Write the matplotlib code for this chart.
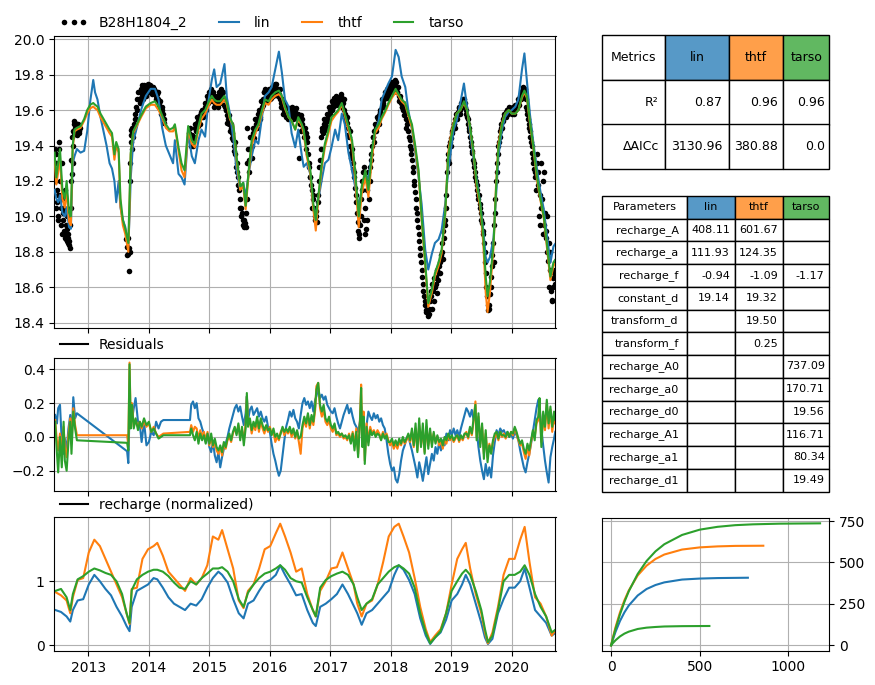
import matplotlib
matplotlib.use("Agg")
import matplotlib.pyplot as plt
from matplotlib.lines import Line2D
import numpy as np

# ---------------- data ----------------
model_names = ["lin", "thtf", "tarso"]
obs_name = "B28H1804_2"

# simulated heads (decimal years)
t_sim = [2012.44, 2012.47, 2012.50, 2012.53, 2012.57, 2012.61, 2012.64, 2012.68, 2012.71, 2012.74, 2012.77, 2012.81,
         2012.87, 2012.93, 2012.98, 2013.03, 2013.08, 2013.11, 2013.15, 2013.20, 2013.25, 2013.30, 2013.35, 2013.39,
         2013.43, 2013.46, 2013.50, 2013.53, 2013.57, 2013.61, 2013.66, 2013.68, 2013.70, 2013.74, 2013.80, 2013.87,
         2013.95, 2014.03, 2014.10, 2014.16, 2014.22, 2014.28, 2014.34, 2014.40,
         2014.43, 2014.49, 2014.54, 2014.59, 2014.65, 2014.71, 2014.76, 2014.82, 2014.87, 2014.93, 2014.98, 2015.04,
         2015.08, 2015.12, 2015.18, 2015.25, 2015.29, 2015.34, 2015.40, 2015.45, 2015.51, 2015.56, 2015.60, 2015.65,
         2015.70, 2015.76, 2015.81, 2015.87, 2015.92, 2015.98, 2016.03, 2016.09, 2016.15, 2016.20, 2016.25, 2016.31,
         2016.36, 2016.42, 2016.47, 2016.53,
         2016.56, 2016.61, 2016.67, 2016.72, 2016.76, 2016.80, 2016.86, 2016.91, 2016.97, 2017.02, 2017.08, 2017.13,
         2017.19, 2017.24, 2017.30, 2017.36, 2017.41, 2017.47, 2017.52, 2017.58, 2017.63, 2017.69, 2017.74, 2017.80,
         2017.85, 2017.91, 2017.96, 2018.02, 2018.08, 2018.13, 2018.18, 2018.24, 2018.29, 2018.35, 2018.40, 2018.46,
         2018.51, 2018.57, 2018.62,
         2018.68, 2018.73, 2018.79, 2018.84, 2018.90, 2018.95, 2019.00, 2019.04, 2019.09, 2019.15, 2019.21, 2019.26,
         2019.31, 2019.37, 2019.42, 2019.48, 2019.53, 2019.57, 2019.60, 2019.64, 2019.70, 2019.74, 2019.78, 2019.84,
         2019.89, 2019.95, 2020.00, 2020.06, 2020.11, 2020.17, 2020.21, 2020.25, 2020.30, 2020.36, 2020.42, 2020.47,
         2020.53, 2020.58, 2020.64, 2020.69, 2020.73]

sim_lin = [19.15, 19.10, 19.08, 19.12, 19.02, 19.00, 19.05, 18.94, 18.93, 19.30, 19.34, 19.38,
           19.36, 19.37, 19.48, 19.65, 19.77, 19.70, 19.66, 19.56, 19.48, 19.40, 19.30, 19.27,
           19.20, 19.08, 19.20, 19.05, 18.98, 18.94, 18.83, 19.00, 19.22, 19.42, 19.50, 19.60,
           19.68, 19.72, 19.72, 19.66, 19.50, 19.40, 19.35, 19.30,
           19.43, 19.24, 19.22, 19.18, 19.47, 19.34, 19.30, 19.43, 19.49, 19.45, 19.64, 19.77,
           19.83, 19.73, 19.75, 19.86, 19.67, 19.58, 19.43, 19.26, 19.15, 19.19, 19.11, 19.24,
           19.34, 19.43, 19.41, 19.56, 19.68, 19.70, 19.73, 19.83, 19.93, 19.81, 19.66, 19.62,
           19.47, 19.39, 19.49, 19.34,
           19.28, 19.30, 19.24, 19.04, 19.02, 19.09, 19.21, 19.30, 19.32, 19.39, 19.49, 19.43,
           19.58, 19.52, 19.36, 19.26, 19.17, 19.05, 19.15, 19.24, 19.21, 19.36, 19.47, 19.54,
           19.66, 19.71, 19.75, 19.79, 19.94, 19.90, 19.79, 19.73, 19.60, 19.49, 19.37, 19.22,
           19.07, 18.81, 18.70,
           18.79, 18.85, 18.87, 18.92, 19.07, 19.26, 19.39, 19.49, 19.54, 19.64, 19.75, 19.62,
           19.47, 19.32, 19.21, 19.07, 18.92, 18.77, 18.74, 18.77, 18.88, 19.11, 19.34, 19.49,
           19.56, 19.59, 19.60, 19.62, 19.66, 19.83, 19.92, 19.77, 19.58, 19.41, 19.26, 19.15,
           19.04, 18.90, 18.74, 18.83, 18.85]

sim_thtf = [19.32, 19.18, 19.25, 19.33, 19.10, 19.05, 19.15, 18.97, 18.95, 19.38, 19.48, 19.49,
            19.50, 19.54, 19.58, 19.61, 19.62, 19.61, 19.60, 19.56, 19.53, 19.50, 19.47, 19.45,
            19.32, 19.40, 19.36, 19.06, 18.95, 18.90, 18.80, 19.05, 19.35, 19.47, 19.51, 19.56,
            19.61, 19.63, 19.63, 19.60, 19.56, 19.50, 19.48, 19.48,
            19.51, 19.37, 19.26, 19.22, 19.49, 19.41, 19.39, 19.49, 19.55, 19.58, 19.62, 19.66,
            19.64, 19.63, 19.63, 19.66, 19.63, 19.55, 19.51, 19.32, 19.15, 19.17, 19.04, 19.24,
            19.40, 19.47, 19.51, 19.58, 19.64, 19.63, 19.66, 19.68, 19.69, 19.67, 19.61, 19.56,
            19.54, 19.49, 19.55, 19.51,
            19.47, 19.34, 19.24, 19.04, 18.92, 19.09, 19.28, 19.39, 19.47, 19.54, 19.57, 19.59,
            19.63, 19.57, 19.49, 19.41, 19.22, 18.94, 19.13, 19.22, 19.11, 19.33, 19.47, 19.50,
            19.55, 19.59, 19.63, 19.67, 19.70, 19.68, 19.65, 19.63, 19.57, 19.50, 19.39, 19.24,
            18.98, 18.72, 18.49,
            18.57, 18.66, 18.72, 18.79, 19.01, 19.36, 19.47, 19.53, 19.58, 19.60, 19.64, 19.60,
            19.50, 19.35, 19.17, 19.05, 18.85, 18.57, 18.46, 18.57, 18.83, 19.17, 19.41, 19.53,
            19.58, 19.60, 19.58, 19.58, 19.60, 19.67, 19.70, 19.67, 19.53, 19.38, 19.20, 19.10,
            18.99, 18.83, 18.64, 18.72, 18.74]

sim_tarso = [19.36, 19.22, 19.30, 19.38, 19.15, 19.10, 19.20, 19.02, 19.00, 19.40, 19.49, 19.50,
             19.51, 19.55, 19.60, 19.63, 19.64, 19.63, 19.62, 19.58, 19.55, 19.52, 19.49, 19.47,
             19.35, 19.42, 19.38, 19.10, 18.98, 18.93, 18.85, 19.10, 19.36, 19.48, 19.52, 19.57,
             19.62, 19.64, 19.65, 19.62, 19.57, 19.52, 19.49, 19.50,
             19.52, 19.39, 19.30, 19.26, 19.51, 19.43, 19.41, 19.51, 19.58, 19.60, 19.64, 19.68,
             19.66, 19.65, 19.65, 19.68, 19.64, 19.56, 19.51, 19.34, 19.17, 19.19, 19.06, 19.26,
             19.43, 19.49, 19.52, 19.60, 19.66, 19.65, 19.68, 19.70, 19.71, 19.68, 19.62, 19.56,
             19.54, 19.49, 19.56, 19.52,
             19.49, 19.36, 19.26, 19.07, 18.98, 19.11, 19.30, 19.41, 19.49, 19.56, 19.58, 19.60,
             19.64, 19.58, 19.51, 19.43, 19.26, 19.00, 19.17, 19.26, 19.15, 19.37, 19.49, 19.52,
             19.56, 19.60, 19.64, 19.68, 19.72, 19.69, 19.66, 19.64, 19.58, 19.52, 19.41, 19.26,
             19.00, 18.74, 18.51,
             18.59, 18.68, 18.74, 18.81, 19.02, 19.34, 19.45, 19.52, 19.58, 19.60, 19.65, 19.60,
             19.51, 19.36, 19.19, 19.07, 18.89, 18.66, 18.55, 18.63, 18.85, 19.15, 19.39, 19.52,
             19.58, 19.60, 19.58, 19.58, 19.60, 19.68, 19.71, 19.68, 19.54, 19.39, 19.22, 19.11,
             19.00, 18.85, 18.66, 18.74, 18.76]

# observed heads (two readings per stretch: centre and edge of the dot band)
t_obs_a = [2012.44, 2012.45, 2012.46, 2012.47, 2012.48, 2012.49, 2012.50, 2012.51, 2012.52, 2012.53, 2012.54, 2012.55,
           2012.56, 2012.57, 2012.58, 2012.59, 2012.60, 2012.61, 2012.62, 2012.63, 2012.64, 2012.65, 2012.66, 2012.67,
           2012.68, 2012.69, 2012.70, 2012.71, 2012.72, 2012.73, 2012.74, 2012.75, 2012.76, 2012.77, 2012.78, 2012.80,
           2012.82, 2012.84, 2012.86,
           2013.62, 2013.64, 2013.66, 2013.67, 2013.68, 2013.69, 2013.70, 2013.71, 2013.72, 2013.73, 2013.75, 2013.77,
           2013.79, 2013.81, 2013.83, 2013.85, 2013.87, 2013.89, 2013.91, 2013.93, 2013.95, 2013.97, 2013.99, 2014.01,
           2014.03, 2014.05, 2014.07, 2014.09, 2014.11, 2014.13, 2014.15, 2014.17, 2014.19, 2014.21, 2014.23, 2014.25,
           2014.67, 2014.69, 2014.71, 2014.73, 2014.75, 2014.77, 2014.79, 2014.81, 2014.83, 2014.85, 2014.87, 2014.89,
           2014.91, 2014.93, 2014.95, 2014.97, 2014.99, 2015.01, 2015.03, 2015.05, 2015.07, 2015.09, 2015.11, 2015.13,
           2015.15, 2015.17, 2015.19, 2015.21, 2015.23, 2015.25, 2015.27, 2015.29, 2015.31, 2015.33, 2015.35, 2015.37,
           2015.39, 2015.41, 2015.43, 2015.45, 2015.47, 2015.49, 2015.51, 2015.53, 2015.55, 2015.57, 2015.59, 2015.61,
           2015.62, 2015.63, 2015.65, 2015.67, 2015.69, 2015.71, 2015.73, 2015.75, 2015.77, 2015.79, 2015.81, 2015.83,
           2015.85, 2015.87, 2015.89, 2015.91, 2015.93, 2015.95, 2015.97, 2015.99, 2016.01, 2016.03, 2016.05, 2016.07,
           2016.09, 2016.11, 2016.13, 2016.15, 2016.17, 2016.19, 2016.21, 2016.23, 2016.25, 2016.27, 2016.29, 2016.31,
           2016.33, 2016.35, 2016.37, 2016.39, 2016.41, 2016.43, 2016.45, 2016.47, 2016.49, 2016.51,
           2016.53, 2016.55, 2016.57, 2016.59, 2016.61, 2016.63, 2016.65, 2016.67, 2016.69, 2016.71, 2016.73, 2016.75,
           2016.77, 2016.79, 2016.81, 2016.83, 2016.85, 2016.87, 2016.89, 2016.91, 2016.93, 2016.95, 2016.97, 2016.99,
           2017.01, 2017.03, 2017.05, 2017.07, 2017.09, 2017.11, 2017.13, 2017.15, 2017.17, 2017.19, 2017.21, 2017.23,
           2017.25, 2017.27, 2017.29, 2017.31, 2017.33, 2017.35, 2017.37, 2017.39, 2017.41, 2017.43, 2017.45, 2017.47,
           2017.49, 2017.51, 2017.53, 2017.55, 2017.57, 2017.59, 2017.61, 2017.63, 2017.65, 2017.67, 2017.69, 2017.71,
           2017.73, 2017.75, 2017.77, 2017.79, 2017.81, 2017.83, 2017.85, 2017.87, 2017.89, 2017.91, 2017.93, 2017.95,
           2017.97, 2017.99, 2018.01, 2018.03, 2018.05, 2018.07, 2018.09, 2018.11, 2018.13, 2018.15, 2018.17, 2018.19,
           2018.21, 2018.23, 2018.25, 2018.27, 2018.29, 2018.31, 2018.33, 2018.35, 2018.37, 2018.39, 2018.41, 2018.43,
           2018.45, 2018.47, 2018.49, 2018.51, 2018.53, 2018.55, 2018.57, 2018.59, 2018.61, 2018.63,
           2018.65, 2018.67, 2018.69, 2018.71, 2018.73, 2018.75, 2018.77, 2018.79, 2018.81, 2018.83, 2018.85, 2018.87,
           2018.89, 2018.91, 2018.93, 2018.95, 2018.97, 2018.99, 2019.01, 2019.03, 2019.05, 2019.07, 2019.09, 2019.11,
           2019.13, 2019.15, 2019.17, 2019.19, 2019.21, 2019.23, 2019.25, 2019.27, 2019.29, 2019.31, 2019.33, 2019.35,
           2019.37, 2019.39, 2019.41, 2019.43, 2019.45, 2019.47, 2019.49, 2019.51, 2019.53, 2019.55, 2019.57, 2019.59,
           2019.61, 2019.63, 2019.65, 2019.67, 2019.69, 2019.71, 2019.73, 2019.75, 2019.77, 2019.79, 2019.81, 2019.83,
           2019.85, 2019.87, 2019.89, 2019.91, 2019.93, 2019.95, 2019.97, 2019.99, 2020.01, 2020.03, 2020.05, 2020.07,
           2020.09, 2020.11, 2020.13, 2020.15, 2020.17, 2020.19, 2020.21, 2020.23, 2020.25, 2020.27, 2020.29, 2020.31,
           2020.33, 2020.35, 2020.37, 2020.39, 2020.41, 2020.43, 2020.45, 2020.47, 2020.49, 2020.51, 2020.53, 2020.55,
           2020.57, 2020.59, 2020.61, 2020.63, 2020.65, 2020.67, 2020.69, 2020.71, 2020.73]

h_obs_a = [19.38, 19.25, 19.05, 19.30, 19.15, 19.00, 19.12, 19.38, 19.42, 19.20, 18.95, 19.05,
           19.30, 19.10, 18.98, 18.92, 19.05, 19.15, 18.90, 18.87, 19.00, 18.93, 18.88, 18.85,
           18.84, 18.82, 18.95, 19.20, 19.32, 19.24, 19.40, 19.48, 19.52, 19.54, 19.50, 19.49,
           19.51, 19.48, 19.50,
           18.87, 18.83, 18.79, 18.69, 18.80, 19.20, 19.42, 19.49, 19.38, 19.45, 19.52, 19.55,
           19.62, 19.60, 19.66, 19.70, 19.67, 19.69, 19.70, 19.72, 19.68, 19.73, 19.72, 19.74,
           19.71, 19.73, 19.70, 19.72, 19.68, 19.69, 19.66, 19.64, 19.62, 19.60, 19.58, 19.55,
           19.47, 19.45, 19.43, 19.40, 19.45, 19.50, 19.53, 19.51, 19.55, 19.57, 19.56, 19.58,
           19.60, 19.62, 19.64, 19.66, 19.68, 19.66, 19.70, 19.68, 19.66, 19.64, 19.67, 19.65,
           19.62, 19.66, 19.70, 19.68, 19.66, 19.63, 19.60, 19.57, 19.55, 19.52, 19.50, 19.47,
           19.43, 19.40, 19.35, 19.30, 19.22, 19.15, 19.10, 19.05, 18.98, 18.94, 18.96, 19.02,
           19.50, 19.30, 19.25, 19.38, 19.45, 19.33, 19.47, 19.50, 19.52, 19.55, 19.53, 19.56,
           19.60, 19.62, 19.66, 19.70, 19.68, 19.71, 19.67, 19.69, 19.66, 19.70, 19.68, 19.71,
           19.73, 19.75, 19.72, 19.69, 19.66, 19.64, 19.62, 19.60, 19.62, 19.58, 19.56, 19.58,
           19.57, 19.56, 19.58, 19.57, 19.59, 19.58, 19.55, 19.57, 19.33, 19.57,
           19.52, 19.50, 19.48, 19.47, 19.42, 19.35, 19.28, 19.22, 19.15, 19.10, 19.05, 18.98,
           19.00, 19.08, 19.20, 19.32, 19.45, 19.50, 19.52, 19.53, 19.51, 19.55, 19.57, 19.60,
           19.62, 19.60, 19.64, 19.65, 19.63, 19.66, 19.64, 19.67, 19.68, 19.66, 19.64, 19.60,
           19.57, 19.53, 19.50, 19.45, 19.40, 19.33, 19.27, 19.22, 19.16, 19.08, 18.97, 18.88,
           18.95, 19.10, 19.20, 19.28, 19.05, 18.93, 19.15, 19.25, 19.20, 19.32, 19.40, 19.45,
           19.48, 19.50, 19.52, 19.55, 19.57, 19.59, 19.62, 19.64, 19.66, 19.68, 19.67, 19.69,
           19.70, 19.72, 19.70, 19.73, 19.75, 19.77, 19.73, 19.70, 19.68, 19.66, 19.64, 19.62,
           19.60, 19.58, 19.55, 19.52, 19.48, 19.43, 19.38, 19.32, 19.25, 19.18, 19.10, 19.02,
           18.94, 18.86, 18.78, 18.70, 18.62, 18.55, 18.50, 18.46, 18.44, 18.48,
           18.52, 18.58, 18.62, 18.65, 18.60, 18.66, 18.70, 18.68, 18.74, 18.78, 18.85, 18.92,
           18.98, 19.05, 19.25, 19.35, 19.40, 19.44, 19.48, 19.50, 19.52, 19.55, 19.57, 19.59,
           19.61, 19.60, 19.63, 19.65, 19.66, 19.62, 19.58, 19.55, 19.50, 19.45, 19.40, 19.37,
           19.30, 19.25, 19.20, 19.15, 19.10, 19.07, 19.02, 18.96, 18.90, 18.80, 18.68, 18.55,
           18.47, 18.50, 18.60, 18.72, 18.85, 18.95, 19.10, 19.25, 19.35, 19.42, 19.48, 19.50,
           19.54, 19.56, 19.57, 19.59, 19.60, 19.61, 19.60, 19.59, 19.60, 19.61, 19.60, 19.62,
           19.63, 19.64, 19.66, 19.69, 19.71, 19.73, 19.70, 19.66, 19.60, 19.55, 19.50, 19.45,
           19.40, 19.33, 19.27, 19.22, 19.30, 19.18, 19.00, 19.12, 19.05, 19.20, 18.95, 19.02,
           18.88, 18.80, 18.85, 18.70, 18.58, 18.53, 18.65, 18.70, 18.75]

t_obs_b = [2012.445, 2012.465, 2012.485, 2012.505, 2012.525, 2012.545, 2012.565, 2012.585, 2012.605, 2012.625,
           2012.645, 2012.665, 2012.685, 2012.705, 2012.725, 2012.745, 2012.765, 2012.785, 2012.805, 2012.825,
           2012.845,
           2013.635, 2013.655, 2013.675, 2013.695, 2013.705, 2013.725, 2013.745, 2013.765, 2013.785, 2013.805,
           2013.825, 2013.845, 2013.865, 2013.885, 2013.905, 2013.925, 2013.945, 2013.965, 2013.985, 2014.005,
           2014.025, 2014.045, 2014.065, 2014.085, 2014.105, 2014.125, 2014.145, 2014.165, 2014.185, 2014.205,
           2014.225, 2014.245,
           2014.68, 2014.70, 2014.72, 2014.74, 2014.76, 2014.78, 2014.80, 2014.82, 2014.84, 2014.86, 2014.88, 2014.90,
           2014.92, 2014.94, 2014.96, 2014.98, 2015.00, 2015.02, 2015.04, 2015.06, 2015.08, 2015.10, 2015.12, 2015.14,
           2015.16, 2015.18, 2015.20, 2015.22, 2015.24, 2015.26, 2015.28, 2015.30, 2015.32, 2015.34, 2015.36, 2015.38,
           2015.40, 2015.42, 2015.44, 2015.46, 2015.48, 2015.50, 2015.52, 2015.54, 2015.56, 2015.58, 2015.60, 2015.615,
           2015.64, 2015.66, 2015.68, 2015.70, 2015.72, 2015.74, 2015.76, 2015.78, 2015.80, 2015.82, 2015.84, 2015.86,
           2015.88, 2015.90, 2015.92, 2015.94, 2015.96, 2015.98, 2016.00, 2016.02, 2016.04, 2016.06, 2016.08, 2016.10,
           2016.12, 2016.14, 2016.16, 2016.18, 2016.20, 2016.22, 2016.24, 2016.26, 2016.28, 2016.30, 2016.32, 2016.34,
           2016.36, 2016.38, 2016.40, 2016.42, 2016.44, 2016.46, 2016.48, 2016.50,
           2016.52, 2016.54, 2016.56, 2016.58, 2016.60, 2016.62, 2016.64, 2016.66, 2016.68, 2016.70, 2016.72, 2016.74,
           2016.76, 2016.78, 2016.80, 2016.82, 2016.84, 2016.86, 2016.88, 2016.90, 2016.92, 2016.94, 2016.96, 2016.98,
           2017.00, 2017.02, 2017.04, 2017.06, 2017.08, 2017.10, 2017.12, 2017.14, 2017.16, 2017.18, 2017.20, 2017.22,
           2017.24, 2017.26, 2017.28, 2017.30, 2017.32, 2017.34, 2017.36, 2017.38, 2017.40, 2017.42, 2017.44, 2017.46,
           2017.48, 2017.50, 2017.52, 2017.54, 2017.56, 2017.58, 2017.60, 2017.62, 2017.64, 2017.66, 2017.68, 2017.70,
           2017.72, 2017.74, 2017.76, 2017.78, 2017.80, 2017.82, 2017.84, 2017.86, 2017.88, 2017.90, 2017.92, 2017.94,
           2017.96, 2017.98, 2018.00, 2018.02, 2018.04, 2018.06, 2018.08, 2018.10, 2018.12, 2018.14, 2018.16, 2018.18,
           2018.20, 2018.22, 2018.24, 2018.26, 2018.28, 2018.30, 2018.32, 2018.34, 2018.36, 2018.38, 2018.40, 2018.42,
           2018.44, 2018.46, 2018.48, 2018.50, 2018.52, 2018.54, 2018.56, 2018.58, 2018.60, 2018.62, 2018.64,
           2018.66, 2018.68, 2018.70, 2018.72, 2018.74, 2018.76, 2018.78, 2018.80, 2018.82, 2018.84, 2018.86, 2018.88,
           2018.90, 2018.92, 2018.94, 2018.96, 2018.98, 2019.00, 2019.02, 2019.04, 2019.06, 2019.08, 2019.10, 2019.12,
           2019.14, 2019.16, 2019.18, 2019.20, 2019.22, 2019.24, 2019.26, 2019.28, 2019.30, 2019.32, 2019.34, 2019.36,
           2019.38, 2019.40, 2019.42, 2019.44, 2019.46, 2019.48, 2019.50, 2019.52, 2019.54, 2019.56, 2019.58, 2019.60,
           2019.62, 2019.64, 2019.66, 2019.68, 2019.70, 2019.72, 2019.74, 2019.76, 2019.78, 2019.80, 2019.82, 2019.84,
           2019.86, 2019.88, 2019.90, 2019.92, 2019.94, 2019.96, 2019.98, 2020.00, 2020.02, 2020.04, 2020.06, 2020.08,
           2020.10, 2020.12, 2020.14, 2020.16, 2020.18, 2020.20, 2020.22, 2020.24, 2020.26, 2020.28, 2020.30, 2020.32,
           2020.34, 2020.36, 2020.38, 2020.40, 2020.42, 2020.44, 2020.46, 2020.48, 2020.50, 2020.52, 2020.54, 2020.56,
           2020.58, 2020.60, 2020.62, 2020.64, 2020.66, 2020.68, 2020.70, 2020.72]

h_obs_b = [19.20, 19.35, 19.08, 18.98, 19.30, 19.12, 18.90, 19.02, 18.88, 18.95,
           18.86, 18.90, 18.86, 19.05, 19.45, 19.30, 19.47, 19.53, 19.46, 19.52,
           19.47,
           18.78, 18.88, 18.82, 19.30, 19.46, 19.50, 19.48, 19.58, 19.55, 19.66,
           19.70, 19.64, 19.72, 19.74, 19.66, 19.74, 19.73, 19.70, 19.75, 19.70,
           19.74, 19.69, 19.73, 19.70, 19.71, 19.66, 19.70, 19.62, 19.65, 19.58,
           19.62, 19.53,
           19.50, 19.40, 19.46, 19.43, 19.52, 19.48, 19.56, 19.54, 19.52, 19.59, 19.60, 19.56,
           19.64, 19.60, 19.68, 19.64, 19.70, 19.72, 19.65, 19.70, 19.62, 19.68, 19.63, 19.68,
           19.70, 19.64, 19.72, 19.70, 19.66, 19.62, 19.60, 19.53, 19.57, 19.48, 19.52, 19.44,
           19.37, 19.42, 19.28, 19.25, 19.18, 19.05, 19.00, 19.02, 18.95, 18.98, 18.94, 19.10,
           19.38, 19.32, 19.45, 19.40, 19.50, 19.44, 19.55, 19.50, 19.58, 19.60, 19.55, 19.65,
           19.63, 19.70, 19.72, 19.65, 19.70, 19.72, 19.70, 19.67, 19.73, 19.70, 19.75, 19.70,
           19.72, 19.68, 19.72, 19.62, 19.66, 19.58, 19.64, 19.56, 19.61, 19.55, 19.61, 19.59,
           19.62, 19.55, 19.60, 19.56, 19.61, 19.58, 19.55, 19.52,
           19.48, 19.55, 19.45, 19.50, 19.38, 19.45, 19.30, 19.22, 19.18, 19.05, 19.12, 19.00,
           19.03, 18.97, 19.12, 19.28, 19.38, 19.48, 19.47, 19.55, 19.49, 19.58, 19.54, 19.62,
           19.58, 19.65, 19.62, 19.67, 19.66, 19.68, 19.67, 19.63, 19.65, 19.69, 19.62, 19.66,
           19.58, 19.55, 19.56, 19.46, 19.48, 19.36, 19.38, 19.30, 19.25, 19.12, 19.02, 18.92,
           18.90, 19.00, 19.15, 19.25, 18.98, 18.90, 18.98, 19.20, 19.10, 19.28, 19.35, 19.45,
           19.42, 19.52, 19.48, 19.56, 19.52, 19.60, 19.58, 19.66, 19.62, 19.70, 19.69, 19.72,
           19.68, 19.74, 19.73, 19.76, 19.71, 19.74, 19.76, 19.70, 19.73, 19.65, 19.68, 19.62,
           19.64, 19.57, 19.60, 19.50, 19.53, 19.45, 19.40, 19.35, 19.28, 19.20, 19.14, 19.05,
           18.98, 18.90, 18.82, 18.74, 18.66, 18.58, 18.52, 18.47, 18.46, 18.52, 18.45,
           18.55, 18.48, 18.58, 18.52, 18.62, 18.57, 18.64, 18.72, 18.68, 18.80, 18.76, 18.88,
           18.95, 19.12, 19.32, 19.30, 19.42, 19.40, 19.47, 19.52, 19.50, 19.58, 19.55, 19.62,
           19.58, 19.64, 19.62, 19.66, 19.64, 19.60, 19.56, 19.52, 19.48, 19.42, 19.36, 19.32,
           19.28, 19.22, 19.18, 19.12, 19.12, 19.05, 18.98, 18.92, 18.85, 18.74, 18.60, 18.50,
           18.48, 18.56, 18.66, 18.78, 18.74, 19.02, 19.20, 19.30, 19.40, 19.45, 19.52, 19.50,
           19.55, 19.58, 19.56, 19.60, 19.58, 19.62, 19.61, 19.58, 19.62, 19.58, 19.63, 19.61,
           19.66, 19.63, 19.68, 19.66, 19.72, 19.68, 19.72, 19.62, 19.58, 19.52, 19.48, 19.42,
           19.36, 19.30, 19.25, 19.15, 19.35, 19.25, 18.95, 19.30, 19.10, 18.90, 19.25, 18.92,
           19.00, 18.75, 18.60, 18.80, 18.52, 18.60, 18.68, 18.62]

# residuals
t_res = [2012.45, 2012.48, 2012.50, 2012.53, 2012.56, 2012.59, 2012.61, 2012.64, 2012.67, 2012.70, 2012.72, 2012.75,
         2012.78, 2012.81,
         2013.64, 2013.66, 2013.68, 2013.70, 2013.72, 2013.75, 2013.78, 2013.82, 2013.85, 2013.88, 2013.92, 2013.96,
         2014.00, 2014.04, 2014.08, 2014.12, 2014.16, 2014.20, 2014.24,
         2014.68, 2014.70, 2014.73, 2014.76, 2014.79, 2014.82, 2014.85, 2014.88, 2014.91, 2014.94, 2014.97, 2015.00,
         2015.03, 2015.06, 2015.09, 2015.12, 2015.15, 2015.18, 2015.21, 2015.24, 2015.27, 2015.30, 2015.33, 2015.36,
         2015.39, 2015.42, 2015.45, 2015.48, 2015.51, 2015.54, 2015.57, 2015.60, 2015.62, 2015.64, 2015.67, 2015.70,
         2015.73, 2015.76, 2015.79, 2015.82, 2015.85, 2015.88, 2015.91, 2015.94, 2015.97, 2016.00, 2016.03, 2016.06,
         2016.09, 2016.12, 2016.15, 2016.18, 2016.21, 2016.24, 2016.27, 2016.30, 2016.33, 2016.36, 2016.39, 2016.42,
         2016.45, 2016.48, 2016.51, 2016.54, 2016.57, 2016.60, 2016.63, 2016.66, 2016.69, 2016.72, 2016.75, 2016.77,
         2016.80, 2016.83, 2016.86, 2016.89, 2016.92, 2016.95, 2016.98, 2017.01, 2017.04, 2017.07, 2017.10, 2017.13,
         2017.16, 2017.19, 2017.22, 2017.25, 2017.28, 2017.31, 2017.34, 2017.37, 2017.40, 2017.43, 2017.46, 2017.49,
         2017.51, 2017.53, 2017.55, 2017.57, 2017.60, 2017.63, 2017.66, 2017.69, 2017.72, 2017.75, 2017.78, 2017.81,
         2017.84, 2017.87, 2017.90, 2017.93, 2017.96, 2017.99, 2018.02, 2018.05, 2018.08, 2018.11, 2018.14, 2018.17,
         2018.20, 2018.23, 2018.26, 2018.29, 2018.32, 2018.35, 2018.38, 2018.41, 2018.44, 2018.47, 2018.50, 2018.53,
         2018.56, 2018.59, 2018.62, 2018.65, 2018.68, 2018.71, 2018.74, 2018.77, 2018.80, 2018.83, 2018.86, 2018.89,
         2018.92, 2018.95, 2018.98, 2019.01, 2019.04, 2019.07, 2019.10, 2019.13, 2019.16, 2019.19, 2019.22, 2019.25,
         2019.28, 2019.31, 2019.34, 2019.37, 2019.40, 2019.42, 2019.45, 2019.48, 2019.51, 2019.54, 2019.57, 2019.60,
         2019.63, 2019.66, 2019.69, 2019.72, 2019.75, 2019.78, 2019.81, 2019.84, 2019.87, 2019.90, 2019.93, 2019.96,
         2019.99, 2020.02, 2020.05, 2020.08, 2020.11, 2020.14, 2020.17, 2020.20, 2020.23, 2020.26, 2020.29, 2020.32,
         2020.35, 2020.38, 2020.41, 2020.44, 2020.46, 2020.49, 2020.52, 2020.55, 2020.58, 2020.61, 2020.64, 2020.67,
         2020.70, 2020.72]

res_lin = [0.13, 0.08, 0.17, 0.19, -0.03, -0.10, -0.01, -0.08, 0.05, 0.13, -0.03, 0.235,
           0.11, 0.14,
           -0.085, -0.155, 0.15, 0.13, 0.10, 0.17, 0.23, 0.09, 0.07, -0.03, 0.09, -0.05,
           -0.03, 0.03, 0.01, 0.09, 0.05, 0.09, 0.10,
           0.10, 0.19, 0.21, 0.17, 0.20, 0.11, 0.09, 0.05, 0.02, -0.03, 0.01, -0.06,
           -0.09, -0.03, -0.11, -0.15, -0.09, -0.18, -0.12, -0.07, -0.04, 0.00, 0.05, 0.09,
           0.13, 0.17, 0.19, 0.15, 0.18, 0.12, 0.07, 0.14, 0.24, 0.10, 0.16, 0.18,
           0.13, 0.15, 0.17, 0.12, 0.15, 0.11, 0.09, 0.12, 0.06, 0.03, -0.04, -0.10,
           -0.14, -0.19, -0.23, -0.20, -0.11, -0.02, 0.06, 0.10, 0.15, 0.12, 0.16, 0.11,
           0.09, 0.05, 0.13, 0.20, 0.23, 0.19, 0.21, 0.17, 0.21, 0.15, 0.22, 0.24,
           0.29, 0.23, 0.25, 0.22, 0.24, 0.19, 0.17, 0.15, 0.14, 0.17, 0.12, 0.08,
           0.05, 0.09, 0.13, 0.16, 0.19, 0.14, 0.17, 0.12, 0.08, 0.06, 0.03, 0.09,
           0.18, 0.05, 0.10, -0.02, 0.07, 0.15, 0.12, 0.10, 0.14, 0.11, 0.13, 0.09,
           0.11, 0.07, 0.05, -0.02, -0.10, -0.16, -0.20, -0.18, -0.25, -0.27, -0.22, -0.14,
           -0.08, -0.05, -0.01, 0.01, -0.04, -0.08, -0.13, -0.18, -0.24, -0.15, -0.20, -0.26,
           -0.19, -0.12, -0.22, -0.16, -0.10, -0.14, -0.06, -0.10, -0.03, -0.08, -0.02, -0.05,
           0.02, -0.02, 0.04, 0.01, 0.05, 0.01, 0.04, 0.00, 0.05, 0.09, 0.13, 0.17,
           0.15, 0.12, 0.16, 0.10, 0.14, 0.05, -0.06, -0.14, -0.20, -0.25, -0.16, -0.23,
           -0.18, -0.24, -0.11, -0.03, 0.04, 0.01, 0.05, 0.03, 0.04, 0.01, 0.03, 0.00,
           0.02, -0.01, 0.03, 0.01, -0.02, -0.08, -0.13, -0.18, -0.21, -0.15, -0.10, -0.04,
           0.03, 0.10, 0.17, 0.22, 0.18, 0.05, -0.05, -0.14, -0.21, -0.27, -0.12, -0.06,
           -0.01, 0.03]

res_thtf = [0.10, -0.03, -0.08, 0.02, -0.08, 0.06, -0.06, -0.12, 0.01, 0.11, -0.04, 0.17,
            0.07, 0.01,
            0.01, -0.05, 0.44, 0.08, 0.20, 0.06, 0.10, 0.06, 0.09, 0.05, 0.09, 0.06,
            0.08, 0.03, 0.06, 0.02, 0.00, 0.01, 0.02,
            0.03, 0.07, 0.03, 0.06, 0.05, -0.01, 0.04, 0.00, 0.03, -0.02, 0.03, -0.05,
            0.00, -0.06, -0.03, -0.08, -0.10, -0.06, -0.11, -0.04, -0.07, -0.02, 0.00, -0.03,
            0.02, 0.05, 0.02, 0.07, 0.00, 0.04, -0.02, 0.08, 0.24, 0.07, 0.09, 0.02,
            0.07, 0.04, 0.10, 0.03, 0.09, 0.05, 0.02, 0.06, 0.03, 0.06, 0.02, 0.03,
            -0.03, 0.00, -0.02, 0.03, 0.05, 0.01, 0.04, 0.02, 0.05, 0.00, 0.04, -0.01,
            0.03, -0.03, -0.10, 0.05, 0.10, 0.06, 0.13, 0.05, 0.11, 0.07, 0.16, 0.30,
            0.32, 0.17, 0.12, 0.16, 0.09, 0.07, 0.10, 0.05, 0.03, 0.07, 0.01, 0.02,
            0.00, 0.02, -0.01, 0.00, -0.02, 0.02, -0.03, 0.03, -0.05, 0.05, -0.10, 0.10,
            0.31, -0.05, 0.15, -0.14, 0.08, -0.03, 0.06, 0.02, 0.04, 0.01, 0.04, 0.02,
            -0.01, 0.03, 0.00, 0.02, -0.02, -0.05, -0.03, -0.07, -0.04, -0.07, -0.03, -0.05,
            -0.01, -0.04, -0.02, 0.01, -0.03, 0.03, -0.06, 0.05, -0.08, 0.07, -0.05, 0.04,
            -0.09, 0.06, -0.05, 0.03, -0.04, 0.02, -0.03, 0.00, -0.05, -0.02, -0.07, -0.01,
            -0.04, 0.01, -0.02, 0.00, -0.03, -0.01, 0.01, -0.03, 0.00, -0.02, 0.01, 0.03,
            -0.01, 0.05, 0.01, 0.09, 0.21, 0.00, 0.12, -0.04, 0.06, -0.10, 0.02, -0.12,
            -0.04, -0.09, -0.03, 0.00, 0.02, -0.02, 0.03, 0.00, 0.02, -0.01, 0.02, 0.01,
            0.03, 0.01, 0.05, 0.02, -0.02, -0.05, -0.04, -0.09, -0.13, -0.06, -0.11, -0.03,
            0.02, 0.00, 0.08, 0.10, 0.20, -0.03, 0.12, 0.04, 0.20, 0.05, 0.16, 0.03,
            0.12, 0.08]

res_tarso = [0.09, -0.10, -0.21, 0.00, -0.18, 0.09, -0.14, -0.20, -0.03, 0.09, -0.10, 0.15,
             0.05, -0.02,
             -0.035, -0.08, 0.43, 0.05, 0.19, 0.05, 0.11, 0.04, 0.09, 0.06, 0.11, 0.07,
             0.09, 0.03, 0.05, 0.02, -0.01, 0.00, 0.01,
             0.01, 0.05, 0.01, -0.02, 0.03, -0.04, 0.02, -0.02, 0.01, -0.04, 0.02, -0.04,
             0.02, -0.05, -0.01, -0.06, -0.08, -0.05, -0.09, -0.03, -0.06, -0.01, 0.02, -0.02,
             0.03, 0.06, 0.01, 0.08, -0.02, 0.06, -0.05, 0.05, 0.26, 0.06, 0.11, 0.04,
             0.09, 0.06, 0.12, 0.05, 0.11, 0.07, 0.04, 0.07, 0.04, 0.05, 0.01, 0.05,
             0.00, 0.02, -0.01, 0.02, 0.06, 0.03, 0.05, 0.03, 0.06, 0.02, 0.05, 0.00,
             0.04, -0.01, 0.00, 0.07, 0.12, 0.08, 0.14, 0.07, 0.13, 0.09, 0.18, 0.28,
             0.32, 0.19, 0.15, 0.19, 0.11, 0.09, 0.12, 0.07, 0.05, 0.08, 0.02, 0.03,
             0.01, 0.02, 0.00, 0.01, -0.01, 0.01, -0.04, 0.02, -0.08, 0.03, -0.12, 0.08,
             0.29, -0.06, 0.12, -0.16, 0.06, -0.05, 0.04, 0.01, 0.03, 0.00, 0.02, 0.01,
             -0.02, 0.02, -0.01, 0.01, -0.03, -0.03, -0.01, -0.05, -0.02, -0.05, -0.01, -0.04,
             0.00, -0.03, -0.01, 0.02, -0.02, 0.05, -0.05, 0.08, -0.09, 0.11, -0.06, 0.08,
             -0.10, 0.10, -0.07, 0.05, -0.06, 0.03, -0.04, 0.01, -0.03, -0.01, -0.05, 0.00,
             -0.02, 0.02, -0.01, 0.01, -0.02, 0.00, 0.01, -0.02, 0.01, -0.01, 0.02, 0.02,
             0.00, 0.06, 0.02, 0.11, 0.19, -0.02, 0.14, -0.06, 0.08, -0.13, 0.04, -0.15,
             -0.05, -0.10, -0.02, 0.02, 0.03, -0.01, 0.03, 0.01, 0.01, 0.00, 0.03, 0.00,
             0.03, 0.02, 0.06, 0.03, -0.01, -0.04, -0.02, -0.07, -0.10, -0.04, -0.08, -0.02,
             0.04, -0.02, 0.10, 0.12, 0.23, -0.06, 0.15, 0.06, 0.22, 0.08, 0.18, 0.06,
             0.15, 0.10]

# normalized recharge contributions
t_rch = [2012.455, 2012.547, 2012.639, 2012.700, 2012.743, 2012.822, 2012.914, 2013.006, 2013.098, 2013.190,
         2013.282, 2013.374, 2013.465, 2013.557, 2013.631, 2013.680, 2013.716, 2013.802, 2013.894, 2013.986,
         2014.078, 2014.139, 2014.231, 2014.323, 2014.415, 2014.506, 2014.598, 2014.690, 2014.782, 2014.874,
         2014.966, 2015.058, 2015.149, 2015.211, 2015.302, 2015.394, 2015.486, 2015.566, 2015.639, 2015.731,
         2015.823, 2015.915, 2016.007, 2016.099, 2016.172, 2016.252, 2016.343, 2016.435, 2016.527, 2016.619,
         2016.711, 2016.760, 2016.833, 2016.925, 2017.017, 2017.109, 2017.201, 2017.293, 2017.385, 2017.446,
         2017.519, 2017.599, 2017.691, 2017.783, 2017.874, 2017.966, 2018.058, 2018.132, 2018.211, 2018.303,
         2018.395, 2018.487, 2018.579, 2018.652, 2018.732, 2018.824, 2018.915, 2019.007, 2019.099, 2019.179,
         2019.240, 2019.313, 2019.405, 2019.497, 2019.558, 2019.607, 2019.681, 2019.773, 2019.865, 2019.957,
         2020.048, 2020.140, 2020.214, 2020.294, 2020.386, 2020.477, 2020.569, 2020.661, 2020.734]

rch_lin = [0.55, 0.52, 0.45, 0.37, 0.55, 0.70, 0.72, 0.95, 1.10, 1.00,
           0.88, 0.78, 0.60, 0.45, 0.30, 0.22, 0.60, 0.85, 0.90, 0.95,
           1.05, 1.03, 0.90, 0.75, 0.65, 0.60, 0.55, 0.65, 0.62, 0.72,
           0.90, 1.05, 1.15, 1.10, 0.98, 0.72, 0.50, 0.42, 0.65, 0.70,
           0.85, 0.98, 1.02, 1.10, 1.25, 1.10, 0.95, 0.78, 0.80, 0.55,
           0.35, 0.30, 0.60, 0.65, 0.72, 0.80, 0.95, 0.80, 0.62, 0.50,
           0.32, 0.50, 0.55, 0.65, 0.75, 0.85, 1.10, 1.25, 1.18, 1.02,
           0.80, 0.42, 0.15, 0.02, 0.12, 0.20, 0.40, 0.70, 0.80, 0.95,
           1.10, 0.95, 0.65, 0.35, 0.12, 0.02, 0.10, 0.50, 0.72, 0.90,
           0.90, 1.00, 1.20, 0.90, 0.55, 0.45, 0.35, 0.15, 0.20]

rch_thtf = [0.83, 0.78, 0.70, 0.50, 0.75, 1.02, 1.05, 1.45, 1.65, 1.55,
            1.35, 1.15, 0.95, 0.75, 0.50, 0.33, 0.88, 0.90, 1.35, 1.50,
            1.55, 1.60, 1.40, 1.15, 1.05, 0.95, 0.85, 1.05, 0.95, 1.05,
            1.25, 1.70, 1.65, 1.80, 1.50, 1.20, 0.70, 0.58, 0.85, 0.95,
            1.20, 1.50, 1.55, 1.75, 1.90, 1.70, 1.45, 1.15, 1.20, 0.80,
            0.55, 0.45, 0.85, 1.00, 1.20, 1.22, 1.45, 1.20, 0.95, 0.65,
            0.45, 0.65, 0.70, 0.95, 1.30, 1.70, 1.85, 1.90, 1.70, 1.45,
            1.05, 0.60, 0.25, 0.05, 0.15, 0.25, 0.50, 0.95, 1.35, 1.50,
            1.60, 1.20, 0.80, 0.50, 0.20, 0.03, 0.20, 0.60, 1.10, 1.35,
            1.35, 1.65, 1.85, 1.30, 0.75, 0.65, 0.45, 0.15, 0.25]

rch_tarso = [0.85, 0.88, 0.75, 0.55, 0.80, 1.03, 1.08, 1.15, 1.20, 1.17,
             1.13, 1.10, 1.00, 0.80, 0.50, 0.35, 0.86, 1.03, 1.10, 1.15,
             1.18, 1.18, 1.15, 1.08, 0.98, 0.90, 0.88, 1.00, 0.95, 1.05,
             1.12, 1.20, 1.20, 1.22, 1.15, 1.00, 0.72, 0.60, 0.82, 0.95,
             1.05, 1.12, 1.15, 1.20, 1.25, 1.18, 1.05, 1.00, 0.98, 0.75,
             0.55, 0.45, 0.90, 1.02, 1.08, 1.12, 1.15, 1.10, 0.95, 0.75,
             0.55, 0.65, 0.72, 0.95, 1.05, 1.15, 1.22, 1.25, 1.20, 1.12,
             0.90, 0.50, 0.20, 0.03, 0.12, 0.22, 0.50, 0.85, 1.00, 1.12,
             1.18, 1.10, 0.85, 0.55, 0.25, 0.05, 0.15, 0.55, 1.00, 1.10,
             1.10, 1.15, 1.25, 1.10, 0.80, 0.60, 0.45, 0.20, 0.25]

# step responses
resp_t_lin = [0, 10, 25, 50, 75, 100, 150, 200, 250, 300, 400, 500, 600, 771]
resp_lin = [0, 35, 82, 147, 199, 241, 301, 340, 364, 380, 397, 403, 406, 408]
resp_t_thtf = [0, 10, 25, 50, 75, 100, 150, 200, 250, 300, 400, 500, 600, 700, 858]
resp_thtf = [0, 47, 110, 199, 272, 332, 422, 481, 521, 548, 578, 591, 597, 600, 601]
resp_t_tarso0 = [0, 10, 25, 50, 75, 100, 150, 200, 250, 300, 400, 500, 600, 700, 800, 950, 1178]
resp_tarso0 = [0, 42, 100, 187, 262, 327, 431, 509, 567, 610, 666, 698, 715, 725, 730, 734, 736]
resp_t_tarso1 = [0, 10, 25, 50, 75, 100, 150, 200, 250, 300, 400, 554]
resp_tarso1 = [0, 14, 31, 54, 71, 83, 99, 107, 111, 114, 116, 117]

# tables
metrics_rows = ["R\u00b2", "\u0394AICc"]
metrics_vals = [["0.87", "0.96", "0.96"],
                ["3130.96", "380.88", "0.0"]]
param_rows = ["recharge_A", "recharge_a", "recharge_f", "constant_d", "transform_d", "transform_f",
              "recharge_A0", "recharge_a0", "recharge_d0", "recharge_A1", "recharge_a1", "recharge_d1"]
param_vals = [["408.11", "601.67", ""],
              ["111.93", "124.35", ""],
              ["-0.94", "-1.09", "-1.17"],
              ["19.14", "19.32", ""],
              ["", "19.50", ""],
              ["", "0.25", ""],
              ["", "", "737.09"],
              ["", "", "170.71"],
              ["", "", "19.56"],
              ["", "", "116.71"],
              ["", "", "80.34"],
              ["", "", "19.49"]]

year_ticks = [2013, 2014, 2015, 2016, 2017, 2018, 2019, 2020]

# ---------------- figure ----------------
colors = ["C0", "C1", "C2"]
head_colors = ["#5799c7", "#ff9f4a", "#61b861"]
W, H = 875, 685
fig = plt.figure(figsize=(W / 100, H / 100), dpi=100)


def rect(x0, y0, x1, y1):
    return [x0 / W, 1 - y1 / H, (x1 - x0) / W, (y1 - y0) / H]


xlim = (2012.436, 2020.724)

ax_sim = fig.add_axes(rect(54.3, 35.7, 555.5, 328))
ax_res = fig.add_axes(rect(54.3, 357.5, 555.5, 491), sharex=ax_sim)
ax_rch = fig.add_axes(rect(54.3, 517.3, 555.5, 651), sharex=ax_sim)
ax_met = fig.add_axes(rect(601.7, 35.5, 829.3, 169))
ax_par = fig.add_axes(rect(601.7, 196, 829.3, 491.5))
ax_rsp = fig.add_axes(rect(601.7, 517.7, 829.3, 650.7))

# main simulation panel
t_obs = t_obs_a + t_obs_b
h_obs = h_obs_a + h_obs_b
order = np.argsort(t_obs)
ax_sim.plot(np.asarray(t_obs)[order], np.asarray(h_obs)[order], linestyle="none", marker="o",
            ms=4.0, mew=0, color="k", label=obs_name, zorder=2)
for name, vals, c in zip(model_names, [sim_lin, sim_thtf, sim_tarso], colors):
    ax_sim.plot(t_sim, vals, color=c, lw=1.5, label=name, zorder=3)
ax_sim.set_ylim(18.37, 20.02)
ax_sim.set_yticks([18.4, 18.6, 18.8, 19.0, 19.2, 19.4, 19.6, 19.8, 20.0])
ax_sim.grid(True)
ax_sim.legend(loc="lower left", bbox_to_anchor=(0, 1), ncol=4, frameon=False,
              numpoints=3, borderaxespad=0.0, fontsize=10)

# residuals
for vals, c in zip([res_lin, res_thtf, res_tarso], colors):
    ax_res.plot(t_res, vals, color=c, lw=1.5)
ax_res.set_ylim(-0.32, 0.47)
ax_res.set_yticks([-0.2, 0.0, 0.2, 0.4])
ax_res.grid(True)
ax_res.legend([Line2D([], [], color="k")], ["Residuals"], loc="lower left",
              bbox_to_anchor=(0, 1), frameon=False, borderaxespad=0.0, fontsize=10)

# recharge
for vals, c in zip([rch_lin, rch_thtf, rch_tarso], colors):
    ax_rch.plot(t_rch, vals, color=c, lw=1.5)
ax_rch.set_ylim(-0.09, 2.0)
ax_rch.set_yticks([0, 1])
ax_rch.grid(True)
ax_rch.legend([Line2D([], [], color="k")], ["recharge (normalized)"], loc="lower left",
              bbox_to_anchor=(0, 1), frameon=False, borderaxespad=0.0, fontsize=10)

ax_rch.set_xlim(*xlim)
ax_rch.set_xticks(year_ticks)
ax_rch.set_xticklabels([str(y) for y in year_ticks])
ax_sim.tick_params(labelbottom=False)
ax_res.tick_params(labelbottom=False)

# step responses
ax_rsp.plot(resp_t_lin, resp_lin, color="C0", lw=1.5)
ax_rsp.plot(resp_t_thtf, resp_thtf, color="C1", lw=1.5)
ax_rsp.plot(resp_t_tarso0, resp_tarso0, color="C2", lw=1.5)
ax_rsp.plot(resp_t_tarso1, resp_tarso1, color="C2", lw=1.5)
ax_rsp.set_xlim(-53, 1230)
ax_rsp.set_ylim(-32, 770)
ax_rsp.set_xticks([0, 500, 1000])
ax_rsp.set_yticks([0, 250, 500, 750])
ax_rsp.yaxis.tick_right()
ax_rsp.grid(True)


# tables
def make_table(ax, header, rows, vals, col_widths, fontsize):
    ax.axis("off")
    cell_text = [header] + [[r] + v for r, v in zip(rows, vals)]
    tab = ax.table(cellText=cell_text, cellLoc="right", colWidths=col_widths,
                   bbox=[0, 0, 1, 1])
    tab.auto_set_font_size(False)
    tab.set_fontsize(fontsize)
    for (r, c), cell in tab.get_celld().items():
        cell.set_edgecolor("black")
        cell.set_linewidth(1.0)
        if r == 0:
            cell.get_text().set_ha("center")
            cell._loc = "center"
            if c > 0:
                cell.set_facecolor(head_colors[c - 1])
    return tab


make_table(ax_met, ["Metrics"] + model_names, metrics_rows, metrics_vals,
           [0.279, 0.279, 0.240, 0.202], 9)
make_table(ax_par, ["Parameters"] + model_names, param_rows, param_vals,
           [0.376, 0.208, 0.211, 0.205], 8)

fig.savefig("out.png", dpi=100)
